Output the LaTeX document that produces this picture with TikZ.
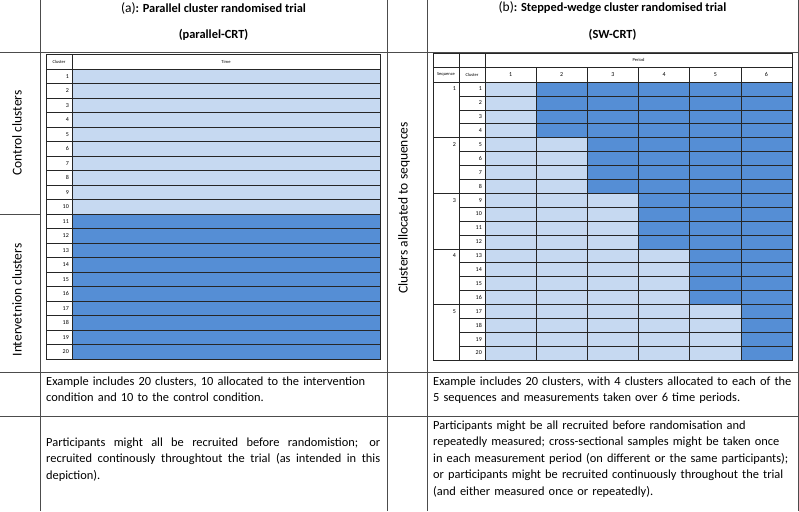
\documentclass[tikz,border=0pt]{standalone}
\usepackage{fontspec}
\setmainfont{Carlito}
\usetikzlibrary{positioning}
\definecolor{ctrlblue}{HTML}{C6D9F1}
\definecolor{intblue}{HTML}{558ED5}

\begin{document}
\begin{tikzpicture}[
    x=1pt, y=-1pt,
    frame/.style={draw=black!70, line width=0.7pt},
    grid/.style={draw=black!85, line width=0.6pt},
    tiny/.style={font=\fontsize{4.5}{5}\selectfont, inner sep=0pt},
    num/.style={font=\fontsize{6}{7}\selectfont, inner sep=0pt},
    head/.style={font=\fontsize{12.4}{14}\selectfont\bfseries},
    side/.style={font=\fontsize{13.5}{15}\selectfont, rotate=90},
    body/.style={font=\fontsize{12.4}{16.5}\selectfont, inner sep=0pt, anchor=north west}
]
\useasboundingbox (0,0) rectangle (799,511);

% Rejilla exterior
\draw[frame] (0,52) -- (799,52);
\draw[frame] (0,372) -- (799,372);
\draw[frame] (0,416) -- (799,416);
\draw[frame] (0,214) -- (40,214);
\foreach \x in {40,387,427,798}
    \draw[frame] (\x,0) -- (\x,511);

% Cabeceras
\node[head] (headA) at (213.5,8) {\mdseries\fontsize{13.5}{14}\selectfont(a)\bfseries\fontsize{12.4}{14}\selectfont: Parallel cluster randomised trial};
\node[head] (subA) at (213.5,35) {(parallel-CRT)};
\node[head] (headB) at (612.5,8) {\mdseries\fontsize{13.5}{14}\selectfont(b)\bfseries\fontsize{12.4}{14}\selectfont: Stepped-wedge cluster randomised trial};
\node[head] (subB) at (612.5,35) {(SW-CRT)};

% Etiquetas laterales
\node[side] (ctrl) at (17,133) {Control clusters};
\node[side] (interv) at (17,300) {Intervetnion clusters};
\node[side] (alloc) at (404,208) {Clusters allocated to sequences};

% Tabla (a): paralelo
\foreach \i in {1,...,10}
    \fill[ctrlblue] (72,{69+(\i-1)*14.5}) rectangle +(308,14.5);
\foreach \i in {11,...,20}
    \fill[intblue] (72,{69+(\i-1)*14.5}) rectangle +(308,14.5);
\foreach \i in {1,...,20} {
    \draw[grid] (46,{69+(\i-1)*14.5}) -- (380,{69+(\i-1)*14.5});
    \node[num, anchor=east] (ca\i) at (69,{69+(\i-0.5)*14.5}) {\i};
}
\draw[grid] (46,54) rectangle (380,359);
\draw[grid] (72,54) -- (72,359);
\node[tiny] (clusterA) at (59,61.5) {Cluster};
\node[tiny] (timeA) at (226,61.5) {Time};

% Tabla (b): escalonado
\foreach \s in {1,...,5} {
    \foreach \c in {1,...,4} {
        \pgfmathtruncatemacro\r{4*(\s-1)+\c}
        \foreach \p in {1,...,6} {
            \ifnum\p>\s \def\cellcol{intblue}\else\def\cellcol{ctrlblue}\fi
            \fill[\cellcol] ({485+(\p-1)*51.17},{82+(\r-1)*13.9}) rectangle +(51.17,13.9);
        }
        \node[num, anchor=east] (cb\r) at (482,{82+(\r-0.5)*13.9}) {\r};
    }
    \node[num, anchor=east] (sb\s) at (456,{82+(4*\s-3.5)*13.9}) {\s};
    \draw[grid] (433,{82+(\s-1)*55.6}) -- (459,{82+(\s-1)*55.6});
}
\foreach \r in {1,...,19}
    \draw[grid] (459,{82+\r*13.9}) -- (792,{82+\r*13.9});
\foreach \p in {1,...,6} {
    \draw[grid] ({485+(\p-1)*51.17},67) -- ({485+(\p-1)*51.17},360);
    \node[num] (pb\p) at ({485+(\p-0.5)*51.17},74.5) {\p};
}
\draw[grid] (433,53) rectangle (792,360);
\draw[grid] (433,67) -- (792,67);
\draw[grid] (433,82) -- (792,82);
\draw[grid] (459,53) -- (459,360);
\draw[grid] (485,53) -- (485,67);
\node[tiny] (period) at (638.5,60) {Period};
\node[tiny] (seqB) at (446,74.5) {Sequence};
\node[tiny] (clusterB) at (472,74.5) {Cluster};

% Textos
\node[body, text width=334pt] (exA) at (46,376.5)
    {Example includes 20 clusters, 10 allocated to the intervention\\condition and 10 to the control condition.};
\node[body, text width=334pt, align=justify] (partA) at (46,437.5)
    {Participants might all be recruited before randomistion; or\linebreak recruited continously throughtout the trial (as intended in this\linebreak depiction).};
\node[body, text width=364pt, align=left] (exB) at (433,376.5)
    {Example includes 20 clusters, with 4 clusters allocated to each of the\\5 sequences and measurements taken over 6 time periods.};
\node[body, text width=364pt, align=left] (partB) at (433,420.5)
    {Participants might be all recruited before randomisation and\\repeatedly measured; cross-sectional samples might be taken once\\in each measurement period (on different or the same participants);\\or participants might be recruited continuously throughout the trial\\(and either measured once or repeatedly).};

\end{tikzpicture}
\end{document}
